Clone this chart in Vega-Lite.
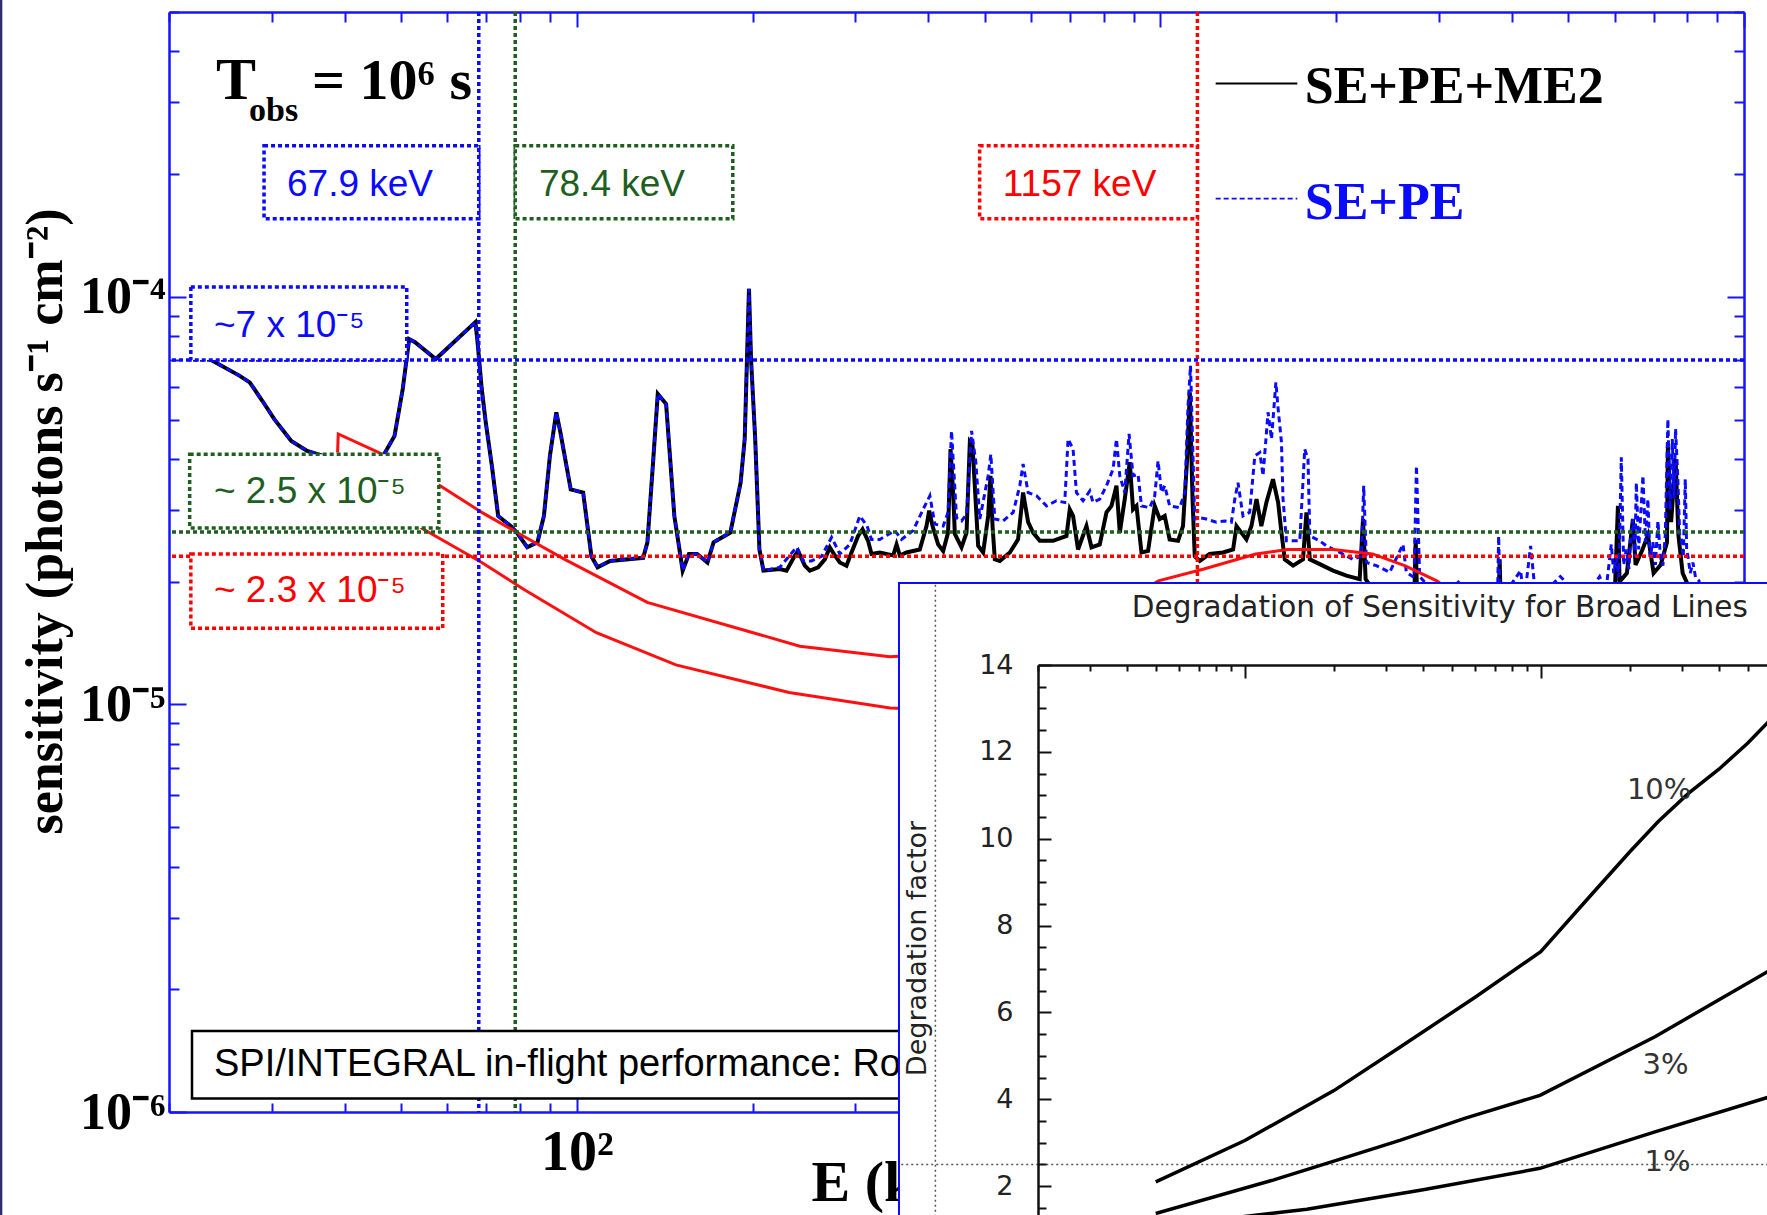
{
"$schema": "https://vega.github.io/schema/vega-lite/v6.json",
"width": 1575, "height": 1100,
"autosize": "none",
"padding": {"left": 169, "top": 12, "right": 23, "bottom": 103},
"background": "white",
"config": {"view": {"stroke": null}, "axis": {"grid": false}},
"datasets": {
"spectra": [
{"s":"SE+PE+ME2","E":22.6,"S":7.24e-5},{"s":"SE+PE+ME2","E":23.7,"S":6.98e-5},{"s":"SE+PE+ME2","E":26.4,"S":6.41e-5},{"s":"SE+PE+ME2","E":27.5,"S":6.17e-5},{"s":"SE+PE+ME2","E":28.9,"S":5.56e-5},{"s":"SE+PE+ME2","E":30.3,"S":5.01e-5},{"s":"SE+PE+ME2","E":32.4,"S":4.43e-5},{"s":"SE+PE+ME2","E":34.5,"S":4.19e-5},{"s":"SE+PE+ME2","E":39.3,"S":3.95e-5},{"s":"SE+PE+ME2","E":46.0,"S":3.95e-5},{"s":"SE+PE+ME2","E":48.7,"S":4.56e-5},{"s":"SE+PE+ME2","E":50.3,"S":5.94e-5},{"s":"SE+PE+ME2","E":51.6,"S":7.88e-5},{"s":"SE+PE+ME2","E":52.8,"S":7.74e-5},{"s":"SE+PE+ME2","E":57.3,"S":7.04e-5},{"s":"SE+PE+ME2","E":67.0,"S":8.67e-5},{"s":"SE+PE+ME2","E":67.5,"S":7.88e-5},{"s":"SE+PE+ME2","E":68.7,"S":5.94e-5},{"s":"SE+PE+ME2","E":69.8,"S":4.92e-5},{"s":"SE+PE+ME2","E":71.5,"S":3.85e-5},{"s":"SE+PE+ME2","E":73.3,"S":2.90e-5},{"s":"SE+PE+ME2","E":77.0,"S":2.74e-5},{"s":"SE+PE+ME2","E":78.9,"S":2.64e-5},{"s":"SE+PE+ME2","E":82.2,"S":2.43e-5},{"s":"SE+PE+ME2","E":85.6,"S":2.50e-5},{"s":"SE+PE+ME2","E":87.8,"S":2.90e-5},{"s":"SE+PE+ME2","E":89.9,"S":4.07e-5},{"s":"SE+PE+ME2","E":92.2,"S":5.21e-5},{"s":"SE+PE+ME2","E":93.7,"S":4.65e-5},{"s":"SE+PE+ME2","E":97.6,"S":3.37e-5},{"s":"SE+PE+ME2","E":102.5,"S":3.31e-5},{"s":"SE+PE+ME2","E":105.9,"S":2.31e-5},{"s":"SE+PE+ME2","E":108.5,"S":2.17e-5},{"s":"SE+PE+ME2","E":114.0,"S":2.25e-5},{"s":"SE+PE+ME2","E":129.9,"S":2.29e-5},{"s":"SE+PE+ME2","E":132.1,"S":2.50e-5},{"s":"SE+PE+ME2","E":135.3,"S":4.07e-5},{"s":"SE+PE+ME2","E":137.6,"S":5.78e-5},{"s":"SE+PE+ME2","E":142.2,"S":5.46e-5},{"s":"SE+PE+ME2","E":146.9,"S":2.90e-5},{"s":"SE+PE+ME2","E":151.8,"S":2.13e-5},{"s":"SE+PE+ME2","E":155.6,"S":2.34e-5},{"s":"SE+PE+ME2","E":160.7,"S":2.34e-5},{"s":"SE+PE+ME2","E":167.4,"S":2.23e-5},{"s":"SE+PE+ME2","E":171.5,"S":2.50e-5},{"s":"SE+PE+ME2","E":183.2,"S":2.64e-5},{"s":"SE+PE+ME2","E":190.8,"S":3.50e-5},{"s":"SE+PE+ME2","E":193.9,"S":4.48e-5},{"s":"SE+PE+ME2","E":197.2,"S":1.046e-4},{"s":"SE+PE+ME2","E":198.8,"S":7.04e-5},{"s":"SE+PE+ME2","E":202.1,"S":4.48e-5},{"s":"SE+PE+ME2","E":205.5,"S":2.40e-5},{"s":"SE+PE+ME2","E":208.8,"S":2.13e-5},{"s":"SE+PE+ME2","E":222.7,"S":2.15e-5},
{"s":"SE+PE+ME2","E":228.7,"S":2.13e-5},{"s":"SE+PE+ME2","E":236.3,"S":2.32e-5},{"s":"SE+PE+ME2","E":239.4,"S":2.38e-5},{"s":"SE+PE+ME2","E":245.8,"S":2.19e-5},{"s":"SE+PE+ME2","E":250.7,"S":2.13e-5},{"s":"SE+PE+ME2","E":259.1,"S":2.17e-5},{"s":"SE+PE+ME2","E":266.0,"S":2.27e-5},{"s":"SE+PE+ME2","E":271.3,"S":2.43e-5},{"s":"SE+PE+ME2","E":276.7,"S":2.32e-5},{"s":"SE+PE+ME2","E":282.2,"S":2.23e-5},{"s":"SE+PE+ME2","E":289.7,"S":2.19e-5},{"s":"SE+PE+ME2","E":295.5,"S":2.36e-5},{"s":"SE+PE+ME2","E":303.3,"S":2.59e-5},{"s":"SE+PE+ME2","E":308.7,"S":2.69e-5},{"s":"SE+PE+ME2","E":315.5,"S":2.52e-5},{"s":"SE+PE+ME2","E":319.8,"S":2.34e-5},{"s":"SE+PE+ME2","E":330.4,"S":2.36e-5},{"s":"SE+PE+ME2","E":348.3,"S":2.32e-5},{"s":"SE+PE+ME2","E":353.0,"S":2.47e-5},{"s":"SE+PE+ME2","E":357.6,"S":2.32e-5},{"s":"SE+PE+ME2","E":367.1,"S":2.36e-5},{"s":"SE+PE+ME2","E":386.9,"S":2.40e-5},{"s":"SE+PE+ME2","E":397.3,"S":2.74e-5},{"s":"SE+PE+ME2","E":401.5,"S":2.99e-5},{"s":"SE+PE+ME2","E":406.9,"S":2.74e-5},{"s":"SE+PE+ME2","E":415.9,"S":2.47e-5},{"s":"SE+PE+ME2","E":424.3,"S":2.38e-5},{"s":"SE+PE+ME2","E":432.6,"S":2.64e-5},{"s":"SE+PE+ME2","E":436.8,"S":4.23e-5},{"s":"SE+PE+ME2","E":441.3,"S":3.31e-5},{"s":"SE+PE+ME2","E":444.3,"S":2.62e-5},{"s":"SE+PE+ME2","E":456.2,"S":2.43e-5},{"s":"SE+PE+ME2","E":465.3,"S":2.64e-5},{"s":"SE+PE+ME2","E":471.4,"S":4.40e-5},{"s":"SE+PE+ME2","E":476.4,"S":4.31e-5},{"s":"SE+PE+ME2","E":480.7,"S":3.44e-5},{"s":"SE+PE+ME2","E":487.1,"S":2.45e-5},{"s":"SE+PE+ME2","E":496.8,"S":2.36e-5},{"s":"SE+PE+ME2","E":506.7,"S":2.90e-5},{"s":"SE+PE+ME2","E":511.4,"S":3.64e-5},{"s":"SE+PE+ME2","E":515.6,"S":2.74e-5},{"s":"SE+PE+ME2","E":520.2,"S":2.27e-5},{"s":"SE+PE+ME2","E":530.6,"S":2.25e-5},{"s":"SE+PE+ME2","E":552.0,"S":2.36e-5},{"s":"SE+PE+ME2","E":570.2,"S":2.54e-5},{"s":"SE+PE+ME2","E":581.6,"S":3.31e-5},{"s":"SE+PE+ME2","E":593.3,"S":2.80e-5},{"s":"SE+PE+ME2","E":605.0,"S":2.64e-5},{"s":"SE+PE+ME2","E":621.3,"S":2.52e-5},{"s":"SE+PE+ME2","E":654.6,"S":2.52e-5},{"s":"SE+PE+ME2","E":690.2,"S":2.59e-5},{"s":"SE+PE+ME2","E":699.2,"S":3.01e-5},{"s":"SE+PE+ME2","E":708.4,"S":2.90e-5},{"s":"SE+PE+ME2","E":722.4,"S":2.40e-5},{"s":"SE+PE+ME2","E":746.8,"S":2.74e-5},{"s":"SE+PE+ME2","E":761.7,"S":2.43e-5},{"s":"SE+PE+ME2","E":787.1,"S":2.47e-5},{"s":"SE+PE+ME2","E":808.2,"S":2.96e-5},{"s":"SE+PE+ME2","E":824.2,"S":3.07e-5},{"s":"SE+PE+ME2","E":840.7,"S":3.44e-5},{"s":"SE+PE+ME2","E":851.8,"S":2.64e-5},{"s":"SE+PE+ME2","E":868.6,"S":3.19e-5},{"s":"SE+PE+ME2","E":886.0,"S":3.93e-5},{"s":"SE+PE+ME2","E":897.5,"S":3.01e-5},{"s":"SE+PE+ME2","E":909.8,"S":3.07e-5},{"s":"SE+PE+ME2","E":927.8,"S":2.36e-5},{"s":"SE+PE+ME2","E":952.3,"S":2.38e-5},{"s":"SE+PE+ME2","E":977.7,"S":3.07e-5},{"s":"SE+PE+ME2","E":997.2,"S":2.85e-5},{"s":"SE+PE+ME2","E":1017,"S":2.90e-5},{"s":"SE+PE+ME2","E":1037,"S":2.54e-5},{"s":"SE+PE+ME2","E":1072,"S":2.52e-5},{"s":"SE+PE+ME2","E":1093,"S":2.74e-5},{"s":"SE+PE+ME2","E":1111,"S":4.00e-5},{"s":"SE+PE+ME2","E":1123,"S":5.83e-5},{"s":"SE+PE+ME2","E":1135,"S":3.19e-5},{"s":"SE+PE+ME2","E":1145,"S":2.31e-5},{"s":"SE+PE+ME2","E":1168,"S":2.25e-5},{"s":"SE+PE+ME2","E":1214,"S":2.34e-5},{"s":"SE+PE+ME2","E":1280,"S":2.36e-5},{"s":"SE+PE+ME2","E":1332,"S":2.40e-5},{"s":"SE+PE+ME2","E":1350,"S":2.74e-5},{"s":"SE+PE+ME2","E":1376,"S":2.64e-5},{"s":"SE+PE+ME2","E":1404,"S":2.54e-5},{"s":"SE+PE+ME2","E":1432,"S":2.74e-5},{"s":"SE+PE+ME2","E":1461,"S":3.19e-5},{"s":"SE+PE+ME2","E":1489,"S":2.74e-5},{"s":"SE+PE+ME2","E":1519,"S":3.13e-5},{"s":"SE+PE+ME2","E":1559,"S":3.57e-5},{"s":"SE+PE+ME2","E":1591,"S":3.13e-5},{"s":"SE+PE+ME2","E":1612,"S":2.64e-5},{"s":"SE+PE+ME2","E":1633,"S":2.27e-5},{"s":"SE+PE+ME2","E":1688,"S":2.19e-5},{"s":"SE+PE+ME2","E":1755,"S":2.27e-5},{"s":"SE+PE+ME2","E":1779,"S":2.96e-5},{"s":"SE+PE+ME2","E":1803,"S":2.27e-5},{"s":"SE+PE+ME2","E":1875,"S":2.21e-5},{"s":"SE+PE+ME2","E":1976,"S":2.13e-5},{"s":"SE+PE+ME2","E":2083,"S":2.07e-5},{"s":"SE+PE+ME2","E":2195,"S":2.03e-5},{"s":"SE+PE+ME2","E":2224,"S":2.85e-5},{"s":"SE+PE+ME2","E":2247,"S":2.03e-5},{"s":"SE+PE+ME2","E":2375,"S":1.81e-5},{"s":"SE+PE+ME2","E":2600,"S":1.7e-5},{"s":"SE+PE+ME2","E":2720,"S":1.75e-5},{"s":"SE+PE+ME2","E":2738,"S":2.54e-5},{"s":"SE+PE+ME2","E":2756,"S":1.7e-5},{"s":"SE+PE+ME2","E":3000,"S":1.6e-5},{"s":"SE+PE+ME2","E":3790,"S":1.6e-5},{"s":"SE+PE+ME2","E":3813,"S":2.27e-5},{"s":"SE+PE+ME2","E":3836,"S":1.6e-5},{"s":"SE+PE+ME2","E":5000,"S":1.5e-5},{"s":"SE+PE+ME2","E":5800,"S":1.6e-5},{"s":"SE+PE+ME2","E":6000,"S":1.8e-5},{"s":"SE+PE+ME2","E":6081,"S":3.07e-5},{"s":"SE+PE+ME2","E":6120,"S":2.0e-5},{"s":"SE+PE+ME2","E":6300,"S":2.1e-5},{"s":"SE+PE+ME2","E":6451,"S":2.85e-5},{"s":"SE+PE+ME2","E":6520,"S":2.2e-5},{"s":"SE+PE+ME2","E":6700,"S":2.4e-5},{"s":"SE+PE+ME2","E":6844,"S":2.6e-5},{"s":"SE+PE+ME2","E":7000,"S":2.1e-5},{"s":"SE+PE+ME2","E":7200,"S":2.2e-5},{"s":"SE+PE+ME2","E":7380,"S":2.5e-5},{"s":"SE+PE+ME2","E":7406,"S":4.3e-5},{"s":"SE+PE+ME2","E":7500,"S":2.8e-5},{"s":"SE+PE+ME2","E":7634,"S":4.0e-5},{"s":"SE+PE+ME2","E":7720,"S":2.6e-5},{"s":"SE+PE+ME2","E":7850,"S":2.1e-5},{"s":"SE+PE+ME2","E":8100,"S":1.9e-5},{"s":"SE+PE+ME2","E":8400,"S":1.6e-5},
{"s":"SE+PE","E":22.6,"S":7.24e-5},{"s":"SE+PE","E":23.7,"S":6.98e-5},{"s":"SE+PE","E":26.4,"S":6.41e-5},{"s":"SE+PE","E":27.5,"S":6.17e-5},{"s":"SE+PE","E":28.9,"S":5.56e-5},{"s":"SE+PE","E":30.3,"S":5.01e-5},{"s":"SE+PE","E":32.4,"S":4.43e-5},{"s":"SE+PE","E":34.5,"S":4.19e-5},{"s":"SE+PE","E":39.3,"S":3.95e-5},{"s":"SE+PE","E":46.0,"S":3.95e-5},{"s":"SE+PE","E":48.7,"S":4.56e-5},{"s":"SE+PE","E":50.3,"S":5.94e-5},{"s":"SE+PE","E":51.6,"S":7.88e-5},{"s":"SE+PE","E":52.8,"S":7.74e-5},{"s":"SE+PE","E":57.3,"S":7.04e-5},{"s":"SE+PE","E":67.0,"S":8.67e-5},{"s":"SE+PE","E":67.5,"S":7.88e-5},{"s":"SE+PE","E":68.7,"S":5.94e-5},{"s":"SE+PE","E":69.8,"S":4.92e-5},{"s":"SE+PE","E":71.5,"S":3.85e-5},{"s":"SE+PE","E":73.3,"S":2.90e-5},{"s":"SE+PE","E":77.0,"S":2.74e-5},{"s":"SE+PE","E":78.9,"S":2.64e-5},{"s":"SE+PE","E":82.2,"S":2.43e-5},{"s":"SE+PE","E":85.6,"S":2.50e-5},{"s":"SE+PE","E":87.8,"S":2.90e-5},{"s":"SE+PE","E":89.9,"S":4.07e-5},{"s":"SE+PE","E":92.2,"S":5.21e-5},{"s":"SE+PE","E":93.7,"S":4.65e-5},{"s":"SE+PE","E":97.6,"S":3.37e-5},{"s":"SE+PE","E":102.5,"S":3.31e-5},{"s":"SE+PE","E":105.9,"S":2.31e-5},{"s":"SE+PE","E":108.5,"S":2.17e-5},{"s":"SE+PE","E":114.0,"S":2.25e-5},{"s":"SE+PE","E":129.9,"S":2.29e-5},{"s":"SE+PE","E":132.1,"S":2.50e-5},{"s":"SE+PE","E":135.3,"S":4.07e-5},{"s":"SE+PE","E":137.6,"S":5.78e-5},{"s":"SE+PE","E":142.2,"S":5.46e-5},{"s":"SE+PE","E":146.9,"S":2.90e-5},{"s":"SE+PE","E":151.8,"S":2.13e-5},{"s":"SE+PE","E":155.6,"S":2.34e-5},{"s":"SE+PE","E":160.7,"S":2.34e-5},{"s":"SE+PE","E":167.4,"S":2.23e-5},{"s":"SE+PE","E":171.5,"S":2.50e-5},{"s":"SE+PE","E":183.2,"S":2.64e-5},{"s":"SE+PE","E":190.8,"S":3.50e-5},{"s":"SE+PE","E":193.9,"S":4.48e-5},{"s":"SE+PE","E":197.2,"S":1.046e-4},{"s":"SE+PE","E":198.8,"S":7.04e-5},{"s":"SE+PE","E":202.1,"S":4.48e-5},{"s":"SE+PE","E":205.5,"S":2.40e-5},{"s":"SE+PE","E":208.8,"S":2.13e-5},{"s":"SE+PE","E":222.7,"S":2.17e-5},
{"s":"SE+PE","E":237.9,"S":2.43e-5},{"s":"SE+PE","E":244.2,"S":2.25e-5},{"s":"SE+PE","E":252.5,"S":2.25e-5},{"s":"SE+PE","E":262.6,"S":2.31e-5},{"s":"SE+PE","E":273.2,"S":2.57e-5},{"s":"SE+PE","E":282.2,"S":2.34e-5},{"s":"SE+PE","E":293.6,"S":2.47e-5},{"s":"SE+PE","E":305.4,"S":2.90e-5},{"s":"SE+PE","E":314.3,"S":2.74e-5},{"s":"SE+PE","E":319.8,"S":2.54e-5},{"s":"SE+PE","E":330.4,"S":2.54e-5},{"s":"SE+PE","E":350.6,"S":2.67e-5},{"s":"SE+PE","E":360.0,"S":2.54e-5},{"s":"SE+PE","E":376.8,"S":2.67e-5},{"s":"SE+PE","E":392.0,"S":3.01e-5},{"s":"SE+PE","E":402.6,"S":3.25e-5},{"s":"SE+PE","E":410.6,"S":2.77e-5},{"s":"SE+PE","E":424.3,"S":2.74e-5},{"s":"SE+PE","E":432.6,"S":2.96e-5},{"s":"SE+PE","E":438.5,"S":4.69e-5},{"s":"SE+PE","E":447.3,"S":2.87e-5},{"s":"SE+PE","E":456.2,"S":2.82e-5},{"s":"SE+PE","E":465.3,"S":2.93e-5},{"s":"SE+PE","E":474.6,"S":4.69e-5},{"s":"SE+PE","E":482.7,"S":3.93e-5},{"s":"SE+PE","E":490.3,"S":2.85e-5},{"s":"SE+PE","E":506.7,"S":3.64e-5},{"s":"SE+PE","E":512.1,"S":4.11e-5},{"s":"SE+PE","E":520.2,"S":2.85e-5},{"s":"SE+PE","E":537.5,"S":2.82e-5},{"s":"SE+PE","E":559.3,"S":2.96e-5},{"s":"SE+PE","E":574.1,"S":3.44e-5},{"s":"SE+PE","E":581.6,"S":3.89e-5},{"s":"SE+PE","E":593.3,"S":3.31e-5},{"s":"SE+PE","E":613.3,"S":3.25e-5},{"s":"SE+PE","E":637.8,"S":3.07e-5},{"s":"SE+PE","E":663.4,"S":3.16e-5},{"s":"SE+PE","E":685.5,"S":3.13e-5},{"s":"SE+PE","E":694.6,"S":4.48e-5},{"s":"SE+PE","E":708.4,"S":4.23e-5},{"s":"SE+PE","E":717.9,"S":3.31e-5},{"s":"SE+PE","E":736.8,"S":3.16e-5},{"s":"SE+PE","E":756.6,"S":3.34e-5},{"s":"SE+PE","E":766.4,"S":3.13e-5},{"s":"SE+PE","E":787.1,"S":3.19e-5},{"s":"SE+PE","E":808.2,"S":3.44e-5},{"s":"SE+PE","E":829.6,"S":3.78e-5},{"s":"SE+PE","E":840.7,"S":4.48e-5},{"s":"SE+PE","E":851.8,"S":3.64e-5},{"s":"SE+PE","E":868.6,"S":3.31e-5},{"s":"SE+PE","E":883.6,"S":4.61e-5},{"s":"SE+PE","E":897.5,"S":3.64e-5},{"s":"SE+PE","E":915.5,"S":3.67e-5},{"s":"SE+PE","E":927.8,"S":3.07e-5},{"s":"SE+PE","E":958.7,"S":3.04e-5},{"s":"SE+PE","E":977.7,"S":3.25e-5},{"s":"SE+PE","E":990.6,"S":3.96e-5},{"s":"SE+PE","E":1004,"S":3.31e-5},{"s":"SE+PE","E":1017,"S":3.44e-5},{"s":"SE+PE","E":1037,"S":3.07e-5},{"s":"SE+PE","E":1079,"S":3.04e-5},{"s":"SE+PE","E":1101,"S":3.31e-5},{"s":"SE+PE","E":1115,"S":5.41e-5},{"s":"SE+PE","E":1126,"S":6.78e-5},{"s":"SE+PE","E":1145,"S":2.85e-5},{"s":"SE+PE","E":1168,"S":2.87e-5},{"s":"SE+PE","E":1199,"S":2.85e-5},{"s":"SE+PE","E":1247,"S":2.80e-5},{"s":"SE+PE","E":1289,"S":2.82e-5},{"s":"SE+PE","E":1323,"S":2.80e-5},{"s":"SE+PE","E":1341,"S":3.19e-5},{"s":"SE+PE","E":1358,"S":3.50e-5},{"s":"SE+PE","E":1385,"S":2.90e-5},{"s":"SE+PE","E":1422,"S":2.96e-5},{"s":"SE+PE","E":1451,"S":4.07e-5},{"s":"SE+PE","E":1480,"S":4.15e-5},{"s":"SE+PE","E":1499,"S":3.64e-5},{"s":"SE+PE","E":1529,"S":5.21e-5},{"s":"SE+PE","E":1550,"S":4.48e-5},{"s":"SE+PE","E":1577,"S":6.17e-5},{"s":"SE+PE","E":1591,"S":5.31e-5},{"s":"SE+PE","E":1612,"S":4.40e-5},{"s":"SE+PE","E":1622,"S":3.19e-5},{"s":"SE+PE","E":1644,"S":2.52e-5},{"s":"SE+PE","E":1733,"S":2.52e-5},{"s":"SE+PE","E":1767,"S":4.23e-5},{"s":"SE+PE","E":1790,"S":4.00e-5},{"s":"SE+PE","E":1803,"S":2.59e-5},{"s":"SE+PE","E":1875,"S":2.52e-5},{"s":"SE+PE","E":1925,"S":2.45e-5},{"s":"SE+PE","E":2029,"S":2.36e-5},{"s":"SE+PE","E":2138,"S":2.27e-5},{"s":"SE+PE","E":2210,"S":2.31e-5},{"s":"SE+PE","E":2230,"S":3.44e-5},{"s":"SE+PE","E":2254,"S":2.23e-5},{"s":"SE+PE","E":2344,"S":2.19e-5},{"s":"SE+PE","E":2471,"S":2.11e-5},{"s":"SE+PE","E":2604,"S":2.47e-5},{"s":"SE+PE","E":2639,"S":2.11e-5},{"s":"SE+PE","E":2720,"S":2.05e-5},{"s":"SE+PE","E":2746,"S":3.85e-5},{"s":"SE+PE","E":2781,"S":2.06e-5},{"s":"SE+PE","E":3010,"S":1.81e-5},{"s":"SE+PE","E":3257,"S":2.01e-5},{"s":"SE+PE","E":3500,"S":1.8e-5},{"s":"SE+PE","E":3780,"S":1.8e-5},{"s":"SE+PE","E":3798,"S":2.59e-5},{"s":"SE+PE","E":3820,"S":1.8e-5},{"s":"SE+PE","E":4142,"S":2.13e-5},{"s":"SE+PE","E":4200,"S":1.8e-5},{"s":"SE+PE","E":4309,"S":2.45e-5},{"s":"SE+PE","E":4400,"S":1.8e-5},{"s":"SE+PE","E":4845,"S":2.06e-5},{"s":"SE+PE","E":5300,"S":1.8e-5},{"s":"SE+PE","E":5657,"S":2.06e-5},{"s":"SE+PE","E":5800,"S":1.9e-5},{"s":"SE+PE","E":5923,"S":2.47e-5},{"s":"SE+PE","E":5980,"S":2.1e-5},{"s":"SE+PE","E":6042,"S":2.3e-5},{"s":"SE+PE","E":6100,"S":2.05e-5},{"s":"SE+PE","E":6162,"S":4.04e-5},{"s":"SE+PE","E":6220,"S":2.2e-5},{"s":"SE+PE","E":6284,"S":2.4e-5},{"s":"SE+PE","E":6350,"S":2.15e-5},{"s":"SE+PE","E":6400,"S":2.6e-5},{"s":"SE+PE","E":6451,"S":2.85e-5},{"s":"SE+PE","E":6500,"S":2.3e-5},{"s":"SE+PE","E":6539,"S":3.50e-5},{"s":"SE+PE","E":6600,"S":2.4e-5},{"s":"SE+PE","E":6650,"S":2.9e-5},{"s":"SE+PE","E":6711,"S":3.64e-5},{"s":"SE+PE","E":6780,"S":2.5e-5},{"s":"SE+PE","E":6844,"S":3.19e-5},{"s":"SE+PE","E":6900,"S":2.3e-5},{"s":"SE+PE","E":6981,"S":2.5e-5},{"s":"SE+PE","E":7050,"S":2.2e-5},{"s":"SE+PE","E":7120,"S":2.82e-5},{"s":"SE+PE","E":7190,"S":2.3e-5},{"s":"SE+PE","E":7261,"S":2.19e-5},{"s":"SE+PE","E":7330,"S":2.6e-5},{"s":"SE+PE","E":7406,"S":5.01e-5},{"s":"SE+PE","E":7470,"S":3.0e-5},{"s":"SE+PE","E":7536,"S":4.48e-5},{"s":"SE+PE","E":7590,"S":3.2e-5},{"s":"SE+PE","E":7634,"S":4.74e-5},{"s":"SE+PE","E":7703,"S":3.57e-5},{"s":"SE+PE","E":7760,"S":2.6e-5},{"s":"SE+PE","E":7808,"S":2.54e-5},{"s":"SE+PE","E":7870,"S":2.3e-5},{"s":"SE+PE","E":7932,"S":3.57e-5},{"s":"SE+PE","E":7975,"S":2.4e-5},{"s":"SE+PE","E":8015,"S":2.31e-5},{"s":"SE+PE","E":8090,"S":2.1e-5},{"s":"SE+PE","E":8173,"S":2.23e-5},{"s":"SE+PE","E":8260,"S":2.05e-5},{"s":"SE+PE","E":8375,"S":2.01e-5},{"s":"SE+PE","E":8459,"S":1.7e-5}
],
"red": [
{"c":"upper","E":38.9,"S":4.15e-5},{"c":"upper","E":39.0,"S":4.61e-5},{"c":"upper","E":45.6,"S":4.16e-5},{"c":"upper","E":58.3,"S":3.44e-5},{"c":"upper","E":68.7,"S":2.96e-5},{"c":"upper","E":80.9,"S":2.59e-5},{"c":"upper","E":95.3,"S":2.27e-5},{"c":"upper","E":132,"S":1.78e-5},{"c":"upper","E":241,"S":1.39e-5},{"c":"upper","E":344,"S":1.31e-5},{"c":"upper","E":500,"S":1.35e-5},{"c":"upper","E":700,"S":1.6e-5},{"c":"upper","E":900,"S":1.85e-5},{"c":"upper","E":992,"S":2.01e-5},{"c":"upper","E":1187,"S":2.15e-5},{"c":"upper","E":1457,"S":2.34e-5},{"c":"upper","E":1652,"S":2.40e-5},{"c":"upper","E":1978,"S":2.40e-5},{"c":"upper","E":2308,"S":2.34e-5},{"c":"upper","E":2622,"S":2.19e-5},{"c":"upper","E":2975,"S":2.01e-5},{"c":"upper","E":3500,"S":1.7e-5},{"c":"upper","E":4500,"S":1.3e-5},
{"c":"lower","E":48,"S":3.1e-5},{"c":"lower","E":54.6,"S":2.69e-5},{"c":"lower","E":68.7,"S":2.23e-5},{"c":"lower","E":80.9,"S":1.92e-5},{"c":"lower","E":108,"S":1.50e-5},{"c":"lower","E":147.8,"S":1.25e-5},{"c":"lower","E":231,"S":1.07e-5},{"c":"lower","E":344,"S":9.8e-6},{"c":"lower","E":600,"S":9.5e-6},{"c":"lower","E":1000,"S":1.0e-5}
],
"inset": [
{"w":"10%","E":50,"D":2.10},{"w":"10%","E":100,"D":3.05},{"w":"10%","E":200,"D":4.20},{"w":"10%","E":336,"D":5.21},{"w":"10%","E":600,"D":6.35},{"w":"10%","E":1000,"D":7.40},{"w":"10%","E":1500,"D":8.75},{"w":"10%","E":2000,"D":9.70},{"w":"10%","E":2500,"D":10.40},{"w":"10%","E":3162,"D":11.05},{"w":"10%","E":4000,"D":11.60},{"w":"10%","E":5000,"D":12.20},{"w":"10%","E":5900,"D":12.70},{"w":"10%","E":8000,"D":13.90},
{"w":"3%","E":50,"D":1.37},{"w":"3%","E":124.5,"D":2.14},{"w":"3%","E":205,"D":2.60},{"w":"3%","E":336,"D":3.06},{"w":"3%","E":553,"D":3.56},{"w":"3%","E":994,"D":4.09},{"w":"3%","E":2432,"D":5.44},{"w":"3%","E":5947,"D":6.97},{"w":"3%","E":8000,"D":7.60},
{"w":"1%","E":50,"D":1.08},{"w":"1%","E":100,"D":1.30},{"w":"1%","E":162,"D":1.47},{"w":"1%","E":396,"D":1.91},{"w":"1%","E":994,"D":2.41},{"w":"1%","E":2432,"D":3.25},{"w":"1%","E":5947,"D":4.06},{"w":"1%","E":8000,"D":4.45}
]
},
"layer": [
{
"layer": [
{"data": {"values": [{"E": 10.28, "S": 4e-7, "S2": 6e-4}]},
 "mark": {"type": "rule", "color": "#2d2d70", "strokeWidth": 4},
 "encoding": {"x": {"field": "E", "type": "quantitative", "scale": {"type": "log", "domain": [20, 10000], "nice": false}, "axis": null},
  "y": {"field": "S", "type": "quantitative", "scale": {"type": "log", "domain": [1e-6, 5e-4], "nice": false}, "axis": null}, "y2": {"field": "S2"}}},
{"data": {"name": "spectra"}, "transform": [{"filter": "datum.s == 'SE+PE+ME2'"}],
 "mark": {"type": "line", "color": "black", "strokeWidth": 4},
 "encoding": {
  "x": {"field": "E", "type": "quantitative", "scale": {"type": "log", "domain": [20, 10000], "nice": false},
   "axis": {"orient": "bottom", "values": [20,30,40,50,60,70,80,90,100,200,300,400,500,600,700,800,900,1000,2000,3000,4000,5000,6000,7000,8000,9000,10000],
    "labelExpr": "datum.value == 100 ? '10²' : datum.value == 1000 ? '10³' : datum.value == 10000 ? '10⁴' : ''",
    "tickSize": {"condition": {"test": "datum.value == 100 || datum.value == 1000 || datum.value == 10000", "value": -15}, "value": -9},
    "tickColor": "#1414ff", "tickWidth": 2, "domainColor": "#1414ff", "domainWidth": 2.5,
    "labelFont": "Liberation Serif", "labelFontWeight": "bold", "labelFontSize": 56, "labelColor": "black", "labelPadding": 28, "labelOverlap": false, "labelFlush": false,
    "title": "E (keV)", "titleFont": "Liberation Serif", "titleFontWeight": "bold", "titleFontSize": 58, "titleColor": "black", "titleX": 642, "titleY": 71, "titleAlign": "left", "titleBaseline": "middle"}},
  "y": {"field": "S", "type": "quantitative", "scale": {"type": "log", "domain": [1e-6, 5e-4], "nice": false},
   "axis": {"orient": "left", "values": [1e-6,2e-6,3e-6,4e-6,5e-6,6e-6,7e-6,8e-6,9e-6,1e-5,2e-5,3e-5,4e-5,5e-5,6e-5,7e-5,8e-5,9e-5,1e-4,2e-4,3e-4,4e-4,5e-4],
    "labelExpr": "datum.value == 1e-4 ? '10⁻⁴' : datum.value == 1e-5 ? '10⁻⁵' : datum.value == 1e-6 ? '10⁻⁶' : ''",
    "tickSize": {"condition": {"test": "datum.value == 1e-4 || datum.value == 1e-5 || datum.value == 1e-6", "value": -17}, "value": -10},
    "tickColor": "#1414ff", "tickWidth": 2, "domainColor": "#1414ff", "domainWidth": 2.5,
    "labelFont": "Liberation Serif", "labelFontWeight": "bold", "labelFontSize": 52, "labelColor": "black", "labelPadding": 21, "labelOverlap": false, "labelFlush": false,
    "title": "sensitivity (photons s⁻¹ cm⁻²)", "titleFont": "Liberation Serif", "titleFontWeight": "bold", "titleFontSize": 52, "titleColor": "black", "titleX": -124, "titleY": 509, "titleAngle": -90, "titleAlign": "center", "titleBaseline": "middle"}}}},
{"data": {"name": "spectra"}, "transform": [{"filter": "datum.s == 'SE+PE'"}],
 "mark": {"type": "line", "color": "#0a0aff", "strokeWidth": 3, "strokeDash": [6, 4]},
 "encoding": {
  "x": {"field": "E", "type": "quantitative", "scale": {"type": "log", "domain": [20, 10000], "nice": false},
   "axis": {"orient": "top", "values": [20,30,40,50,60,70,80,90,100,200,300,400,500,600,700,800,900,1000,2000,3000,4000,5000,6000,7000,8000,9000,10000], "labels": false,
    "tickSize": {"condition": {"test": "datum.value == 100 || datum.value == 1000 || datum.value == 10000", "value": -15}, "value": -10},
    "tickColor": "#1414ff", "tickWidth": 2, "domainColor": "#1414ff", "domainWidth": 2.5, "title": null}},
  "y": {"field": "S", "type": "quantitative", "scale": {"type": "log", "domain": [1e-6, 5e-4], "nice": false},
   "axis": {"orient": "right", "values": [1e-6,2e-6,3e-6,4e-6,5e-6,6e-6,7e-6,8e-6,9e-6,1e-5,2e-5,3e-5,4e-5,5e-5,6e-5,7e-5,8e-5,9e-5,1e-4,2e-4,3e-4,4e-4,5e-4], "labels": false,
    "tickSize": {"condition": {"test": "datum.value == 1e-4 || datum.value == 1e-5 || datum.value == 1e-6", "value": -17}, "value": -10},
    "tickColor": "#1414ff", "tickWidth": 2, "domainColor": "#1414ff", "domainWidth": 2.5, "title": null}}}},
{"data": {"name": "red"},
 "mark": {"type": "line", "color": "#ff1010", "strokeWidth": 3},
 "encoding": {"x": {"field": "E", "type": "quantitative", "scale": {"type": "log", "domain": [20, 10000], "nice": false}, "axis": null},
  "y": {"field": "S", "type": "quantitative", "scale": {"type": "log", "domain": [1e-6, 5e-4], "nice": false}, "axis": null},
  "detail": {"field": "c"}}},
{"data": {"values": [{"line": "67.9 keV", "E": 67.9}, {"line": "78.4 keV", "E": 78.4}, {"line": "1157 keV", "E": 1157}]},
 "mark": {"type": "rule", "strokeWidth": 3.5, "strokeDash": [4, 3]},
 "encoding": {"x": {"field": "E", "type": "quantitative", "scale": {"type": "log", "domain": [20, 10000], "nice": false}, "axis": null},
  "color": {"field": "line", "type": "nominal", "scale": {"domain": ["67.9 keV", "78.4 keV", "1157 keV"], "range": ["#0a0aff", "#1e5e1e", "#ff0000"]}, "legend": null}}},
{"data": {"values": [{"line": "67.9 keV", "S": 7.0e-5}, {"line": "78.4 keV", "S": 2.65e-5}, {"line": "1157 keV", "S": 2.31e-5}]},
 "mark": {"type": "rule", "strokeWidth": 3.5, "strokeDash": [4, 3]},
 "encoding": {"y": {"field": "S", "type": "quantitative", "scale": {"type": "log", "domain": [1e-6, 5e-4], "nice": false}, "axis": null},
  "color": {"field": "line", "type": "nominal", "scale": {"domain": ["67.9 keV", "78.4 keV", "1157 keV"], "range": ["#0a0aff", "#1e5e1e", "#ff0000"]}, "legend": null}}},
{"data": {"values": [
  {"line": "67.9 keV", "E": 29.1, "E2": 67.9, "S": 2.35e-4, "S2": 1.554e-4},
  {"line": "78.4 keV", "E": 78.4, "E2": 185, "S": 2.35e-4, "S2": 1.554e-4},
  {"line": "1157 keV", "E": 490, "E2": 1157, "S": 2.35e-4, "S2": 1.554e-4},
  {"line": "67.9 keV", "E": 21.8, "E2": 51.1, "S": 1.058e-4, "S2": 7.0e-5},
  {"line": "78.4 keV", "E": 21.7, "E2": 58.0, "S": 4.11e-5, "S2": 2.71e-5},
  {"line": "1157 keV", "E": 21.8, "E2": 58.9, "S": 2.34e-5, "S2": 1.537e-5}]},
 "mark": {"type": "rect", "fill": "white", "strokeWidth": 3.5, "strokeDash": [4, 3]},
 "encoding": {"x": {"field": "E", "type": "quantitative", "scale": {"type": "log", "domain": [20, 10000], "nice": false}, "axis": null}, "x2": {"field": "E2"},
  "y": {"field": "S", "type": "quantitative", "scale": {"type": "log", "domain": [1e-6, 5e-4], "nice": false}, "axis": null}, "y2": {"field": "S2"},
  "stroke": {"field": "line", "type": "nominal", "scale": {"domain": ["67.9 keV", "78.4 keV", "1157 keV"], "range": ["#0a0aff", "#1e5e1e", "#ff0000"]}, "legend": null}}},
{"data": {"values": [
  {"t": "67.9 keV", "line": "67.9 keV", "E": 31.86, "S": 1.884e-4},
  {"t": "78.4 keV", "line": "78.4 keV", "E": 86.1, "S": 1.884e-4},
  {"t": "1157 keV", "line": "1157 keV", "E": 536.8, "S": 1.884e-4},
  {"t": "~7 x 10⁻⁵", "line": "67.9 keV", "E": 23.88, "S": 8.49e-5},
  {"t": "~ 2.5 x 10⁻⁵", "line": "78.4 keV", "E": 23.88, "S": 3.33e-5},
  {"t": "~ 2.3 x 10⁻⁵", "line": "1157 keV", "E": 23.88, "S": 1.90e-5}]},
 "mark": {"type": "text", "font": "Liberation Sans", "fontSize": 37, "align": "left", "baseline": "middle"},
 "encoding": {"x": {"field": "E", "type": "quantitative", "scale": {"type": "log", "domain": [20, 10000], "nice": false}, "axis": null},
  "y": {"field": "S", "type": "quantitative", "scale": {"type": "log", "domain": [1e-6, 5e-4], "nice": false}, "axis": null},
  "text": {"field": "t"},
  "color": {"field": "line", "type": "nominal", "scale": {"domain": ["67.9 keV", "78.4 keV", "1157 keV"], "range": ["#0a0aff", "#1e5e1e", "#ff0000"]}, "legend": null}}},
{"data": {"values": [{"E": 1243.5, "E2": 1716, "S": 3.34e-4}]},
 "mark": {"type": "rule", "color": "black", "strokeWidth": 2},
 "encoding": {"x": {"field": "E", "type": "quantitative", "scale": {"type": "log", "domain": [20, 10000], "nice": false}, "axis": null}, "x2": {"field": "E2"},
  "y": {"field": "S", "type": "quantitative", "scale": {"type": "log", "domain": [1e-6, 5e-4], "nice": false}, "axis": null}}},
{"data": {"values": [{"E": 1243.5, "E2": 1716, "S": 1.742e-4}]},
 "mark": {"type": "rule", "color": "#0a0aff", "strokeWidth": 1.8, "strokeDash": [5, 3]},
 "encoding": {"x": {"field": "E", "type": "quantitative", "scale": {"type": "log", "domain": [20, 10000], "nice": false}, "axis": null}, "x2": {"field": "E2"},
  "y": {"field": "S", "type": "quantitative", "scale": {"type": "log", "domain": [1e-6, 5e-4], "nice": false}, "axis": null}}},
{"data": {"values": [{"t": "SE+PE+ME2", "E": 1767, "S": 2.99e-4}]},
 "mark": {"type": "text", "font": "Liberation Serif", "fontWeight": "bold", "fontSize": 52, "color": "black", "align": "left", "baseline": "alphabetic"},
 "encoding": {"x": {"field": "E", "type": "quantitative", "scale": {"type": "log", "domain": [20, 10000], "nice": false}, "axis": null},
  "y": {"field": "S", "type": "quantitative", "scale": {"type": "log", "domain": [1e-6, 5e-4], "nice": false}, "axis": null}, "text": {"field": "t"}}},
{"data": {"values": [{"t": "SE+PE", "E": 1767, "S": 1.554e-4}]},
 "mark": {"type": "text", "font": "Liberation Serif", "fontWeight": "bold", "fontSize": 52, "color": "#0a0aff", "align": "left", "baseline": "alphabetic"},
 "encoding": {"x": {"field": "E", "type": "quantitative", "scale": {"type": "log", "domain": [20, 10000], "nice": false}, "axis": null},
  "y": {"field": "S", "type": "quantitative", "scale": {"type": "log", "domain": [1e-6, 5e-4], "nice": false}, "axis": null}, "text": {"field": "t"}}},
{"data": {"values": [{"t": "T", "E": 24.08, "S": 3.066e-4}]},
 "mark": {"type": "text", "font": "Liberation Serif", "fontWeight": "bold", "fontSize": 60, "color": "black", "align": "left", "baseline": "alphabetic"},
 "encoding": {"x": {"field": "E", "type": "quantitative", "scale": {"type": "log", "domain": [20, 10000], "nice": false}, "axis": null},
  "y": {"field": "S", "type": "quantitative", "scale": {"type": "log", "domain": [1e-6, 5e-4], "nice": false}, "axis": null}, "text": {"field": "t"}}},
{"data": {"values": [{"t": "obs", "E": 27.42, "S": 2.705e-4}]},
 "mark": {"type": "text", "font": "Liberation Serif", "fontWeight": "bold", "fontSize": 34, "color": "black", "align": "left", "baseline": "alphabetic"},
 "encoding": {"x": {"field": "E", "type": "quantitative", "scale": {"type": "log", "domain": [20, 10000], "nice": false}, "axis": null},
  "y": {"field": "S", "type": "quantitative", "scale": {"type": "log", "domain": [1e-6, 5e-4], "nice": false}, "axis": null}, "text": {"field": "t"}}},
{"data": {"values": [{"t": "= 10⁶ s", "E": 35.17, "S": 3.066e-4}]},
 "mark": {"type": "text", "font": "Liberation Serif", "fontWeight": "bold", "fontSize": 58, "color": "black", "align": "left", "baseline": "alphabetic"},
 "encoding": {"x": {"field": "E", "type": "quantitative", "scale": {"type": "log", "domain": [20, 10000], "nice": false}, "axis": null},
  "y": {"field": "S", "type": "quantitative", "scale": {"type": "log", "domain": [1e-6, 5e-4], "nice": false}, "axis": null}, "text": {"field": "t"}}},
{"data": {"values": [{"E": 21.9, "E2": 5000, "S": 1.58e-6, "S2": 1.08e-6}]},
 "mark": {"type": "rect", "fill": "white", "stroke": "black", "strokeWidth": 2.5},
 "encoding": {"x": {"field": "E", "type": "quantitative", "scale": {"type": "log", "domain": [20, 10000], "nice": false}, "axis": null}, "x2": {"field": "E2"},
  "y": {"field": "S", "type": "quantitative", "scale": {"type": "log", "domain": [1e-6, 5e-4], "nice": false}, "axis": null}, "y2": {"field": "S2"}}},
{"data": {"values": [{"t": "SPI/INTEGRAL in-flight performance: Roques et al. 2003", "E": 23.88, "S": 1.305e-6}]},
 "mark": {"type": "text", "font": "Liberation Sans", "fontSize": 38, "color": "black", "align": "left", "baseline": "middle"},
 "encoding": {"x": {"field": "E", "type": "quantitative", "scale": {"type": "log", "domain": [20, 10000], "nice": false}, "axis": null},
  "y": {"field": "S", "type": "quantitative", "scale": {"type": "log", "domain": [1e-6, 5e-4], "nice": false}, "axis": null}, "text": {"field": "t"}}}
],
"resolve": {"axis": {"x": "independent", "y": "independent"}}
},
{
"layer": [
{"data": {"values": [{"E": 6.78, "E2": 100000, "D": 15.89, "D2": -40}]},
 "mark": {"type": "rect", "fill": "white", "stroke": "#0a0aff", "strokeWidth": 2},
 "encoding": {"x": {"field": "E", "type": "quantitative", "scale": {"type": "log", "domain": [20, 8000], "range": [869, 1639], "nice": false}, "axis": null}, "x2": {"field": "E2"},
  "y": {"field": "D", "type": "quantitative", "scale": {"domain": [0, 14], "range": [1261, 653], "nice": false, "zero": false}, "axis": null}, "y2": {"field": "D2"}}},
{"data": {"values": [{"E": 6.9, "E2": 100000, "D": 2.5}]},
 "mark": {"type": "rule", "color": "#555555", "strokeWidth": 1.5, "strokeDash": [2, 3]},
 "encoding": {"x": {"field": "E", "type": "quantitative", "scale": {"type": "log", "domain": [20, 8000], "range": [869, 1639], "nice": false}, "axis": null}, "x2": {"field": "E2"},
  "y": {"field": "D", "type": "quantitative", "scale": {"domain": [0, 14], "range": [1261, 653], "nice": false, "zero": false}, "axis": null}}},
{"data": {"values": [{"E": 9.0, "D": 15.85, "D2": -40}]},
 "mark": {"type": "rule", "color": "#555555", "strokeWidth": 1.5, "strokeDash": [2, 3]},
 "encoding": {"x": {"field": "E", "type": "quantitative", "scale": {"type": "log", "domain": [20, 8000], "range": [869, 1639], "nice": false}, "axis": null},
  "y": {"field": "D", "type": "quantitative", "scale": {"domain": [0, 14], "range": [1261, 653], "nice": false, "zero": false}, "axis": null}, "y2": {"field": "D2"}}},
{"data": {"values": [{"t": "Degradation of Sensitivity for Broad Lines", "E": 456, "D": 15.31}]},
 "mark": {"type": "text", "font": "DejaVu Sans", "fontSize": 29.5, "color": "#222222", "align": "center", "baseline": "middle"},
 "encoding": {"x": {"field": "E", "type": "quantitative", "scale": {"type": "log", "domain": [20, 8000], "range": [869, 1639], "nice": false}, "axis": null},
  "y": {"field": "D", "type": "quantitative", "scale": {"domain": [0, 14], "range": [1261, 653], "nice": false, "zero": false}, "axis": null}, "text": {"field": "t"}}},
{"data": {"name": "inset"},
 "mark": {"type": "line", "color": "black", "strokeWidth": 3.5},
 "encoding": {
  "x": {"field": "E", "type": "quantitative", "scale": {"type": "log", "domain": [20, 8000], "range": [869, 1639], "nice": false},
   "axis": {"orient": "top", "offset": -653, "values": [20,30,40,50,60,70,80,90,100,200,300,400,500,600,700,800,900,1000,2000,3000,4000,5000,6000,7000,8000], "labels": false,
    "tickSize": {"condition": {"test": "datum.value == 100 || datum.value == 1000", "value": -13}, "value": -6},
    "tickColor": "#111111", "tickWidth": 2, "domainColor": "#111111", "domainWidth": 2.5, "title": null, "zindex": 1}},
  "y": {"field": "D", "type": "quantitative", "scale": {"domain": [0, 14], "range": [1261, 653], "nice": false, "zero": false},
   "axis": {"orient": "left", "offset": -869, "values": [0,0.5,1,1.5,2,2.5,3,3.5,4,4.5,5,5.5,6,6.5,7,7.5,8,8.5,9,9.5,10,10.5,11,11.5,12,12.5,13,13.5,14],
    "labelExpr": "datum.value % 2 == 0 ? format(datum.value, 'd') : ''",
    "tickSize": {"condition": {"test": "datum.value % 2 == 0", "value": -13}, "value": -8},
    "tickColor": "#111111", "tickWidth": 2, "domainColor": "#111111", "domainWidth": 2.5,
    "labelFont": "DejaVu Sans", "labelFontSize": 27, "labelColor": "#222222", "labelPadding": 38, "labelOverlap": false, "labelFlush": false,
    "title": "Degradation factor", "titleFont": "DejaVu Sans", "titleFontWeight": "normal", "titleFontSize": 27, "titleColor": "#222222",
    "titleX": -121, "titleY": 936, "titleAngle": -90, "titleAlign": "center", "titleBaseline": "middle", "zindex": 1}},
  "detail": {"field": "w"}}},
{"data": {"values": [{"t": "10%", "E": 2512, "D": 11.12}, {"t": "3%", "E": 2640, "D": 4.79}, {"t": "1%", "E": 2680, "D": 2.56}]},
 "mark": {"type": "text", "font": "DejaVu Sans", "fontSize": 29, "color": "#333333", "align": "center", "baseline": "middle"},
 "encoding": {"x": {"field": "E", "type": "quantitative", "scale": {"type": "log", "domain": [20, 8000], "range": [869, 1639], "nice": false}, "axis": null},
  "y": {"field": "D", "type": "quantitative", "scale": {"domain": [0, 14], "range": [1261, 653], "nice": false, "zero": false}, "axis": null}, "text": {"field": "t"}}}
],
"resolve": {"axis": {"x": "independent", "y": "independent"}}
}
],
"resolve": {"scale": {"x": "independent", "y": "independent", "color": "independent"}, "axis": {"x": "independent", "y": "independent"}}
}
